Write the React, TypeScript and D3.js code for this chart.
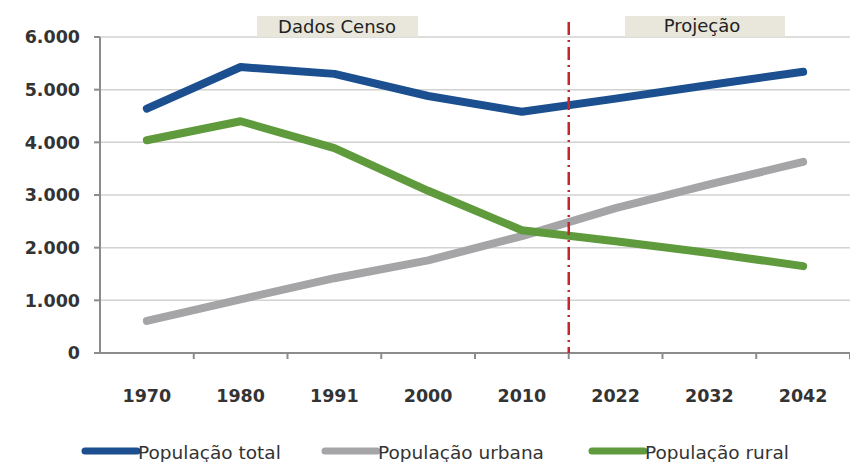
import React from "react";
import * as d3 from "d3";

const categories = ["1970", "1980", "1991", "2000", "2010", "2022", "2032", "2042"];
const totalPop = [4640, 5430, 5300, 4880, 4580, 4830, 5090, 5340];
const urbanPop = [610, 1020, 1420, 1760, 2220, 2750, 3200, 3630];
const ruralPop = [4040, 4400, 3890, 3080, 2330, 2120, 1900, 1650];
const yTicks = [0, 1000, 2000, 3000, 4000, 5000, 6000];
const seriesNames = ["População total", "População urbana", "População rural"];
const seriesColors = ["#1b4f8f", "#a5a5a7", "#5f9b3c"];

const W = 850;
const H = 462;

export default function App() {
  const x = d3.scaleBand<string>().domain(categories).range([100, 850]).padding(0);
  const y = d3.scaleLinear().domain([0, 6000]).range([353, 37]);
  const cx = (c: string) => (x(c) ?? 0) + x.bandwidth() / 2;
  const line = d3
    .line<number>()
    .x((_, i) => cx(categories[i]))
    .y((d) => y(d));
  const series = [totalPop, urbanPop, ruralPop];
  const divider = x("2022") ?? 0;
  const fmt = (v: number) => d3.format(",")(v).replace(/,/g, ".");
  const font = "'DejaVu Sans', Verdana, sans-serif";

  return (
    <svg
      width={W}
      height={H}
      style={{ position: "absolute", left: 0, top: 0, background: "#fff" }}
    >
      <rect x={0} y={0} width={W} height={H} fill="#fff" />
      {/* gridlines */}
      {yTicks.slice(1).map((t) => (
        <line key={t} x1={100} x2={850} y1={y(t)} y2={y(t)} stroke="#d2d2d2" strokeWidth={1.5} />
      ))}
      {/* y axis */}
      <line x1={100} x2={100} y1={y(6000)} y2={y(0)} stroke="#8c8c8c" strokeWidth={2} />
      {yTicks.map((t) => (
        <g key={t}>
          <line x1={94} x2={100} y1={y(t)} y2={y(t)} stroke="#8c8c8c" strokeWidth={2} />
          <text
            x={80}
            y={y(t)}
            dy="0.36em"
            textAnchor="end"
            fontFamily={font}
            fontWeight="bold"
            fontSize={17.5}
            fill="#333"
          >
            {fmt(t)}
          </text>
        </g>
      ))}
      {/* x axis */}
      <line x1={100} x2={850} y1={y(0)} y2={y(0)} stroke="#8c8c8c" strokeWidth={2} />
      {categories.map((c) => (
        <g key={c}>
          <line
            x1={(x(c) ?? 0) + x.bandwidth()}
            x2={(x(c) ?? 0) + x.bandwidth()}
            y1={y(0)}
            y2={y(0) + 6}
            stroke="#8c8c8c"
            strokeWidth={2}
          />
          <text
            x={cx(c)}
            y={402}
            textAnchor="middle"
            fontFamily={font}
            fontWeight="bold"
            fontSize={17.5}
            fill="#333"
          >
            {c}
          </text>
        </g>
      ))}
      {/* period labels */}
      <rect x={257} y={16} width={161} height={21} fill="#e9e7dc" />
      <text x={337} y={33} textAnchor="middle" fontFamily={font} fontSize={18} fill="#222">
        Dados Censo
      </text>
      <rect x={625} y={16} width={160} height={21} fill="#e9e7dc" />
      <text x={702} y={32} textAnchor="middle" fontFamily={font} fontSize={18} fill="#222">
        Projeção
      </text>
      {/* series */}
      {series.map((s, i) => (
        <path
          key={i}
          d={line(s) ?? ""}
          fill="none"
          stroke={seriesColors[i]}
          strokeWidth={8}
          strokeLinejoin="round"
          strokeLinecap="round"
        />
      ))}
      {/* divider */}
      <line
        x1={divider}
        x2={divider}
        y1={22}
        y2={y(0)}
        stroke="#c4262e"
        strokeWidth={2.5}
        strokeDasharray="13 5 2 5"
      />
      {/* legend */}
      {seriesNames.map((n, i) => {
        const lx = [85, 325, 592][i];
        return (
          <g key={n}>
            <line
              x1={lx}
              x2={lx + 52}
              y1={451}
              y2={451}
              stroke={seriesColors[i]}
              strokeWidth={7}
              strokeLinecap="round"
            />
            <text x={lx + 53} y={459} fontFamily={font} fontSize={18.5} fill="#333">
              {n}
            </text>
          </g>
        );
      })}
    </svg>
  );
}
